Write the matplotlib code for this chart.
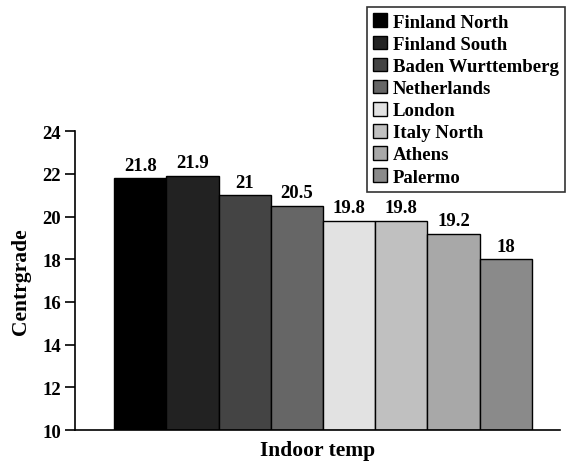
import matplotlib
matplotlib.use("Agg")
import matplotlib.pyplot as plt

regions = ["Finland North", "Finland South", "Baden Wurttemberg", "Netherlands",
           "London", "Italy North", "Athens", "Palermo"]
values = [21.8, 21.9, 21.0, 20.5, 19.8, 19.8, 19.2, 18.0]
labels = ["21.8", "21.9", "21", "20.5", "19.8", "19.8", "19.2", "18"]
colors = ["#000000", "#222222", "#444444", "#666666",
          "#e2e2e2", "#c0c0c0", "#a8a8a8", "#8a8a8a"]
yticks = [10, 12, 14, 16, 18, 20, 22, 24]

plt.rcParams['font.family'] = ['Liberation Serif', 'DejaVu Serif']
plt.rcParams['font.weight'] = 'bold'

fig = plt.figure(figsize=(5.67, 4.64), dpi=100)
ax = fig.add_axes([0.132, 0.071, 0.856, 0.644])

handles = []
for i, (r, v, c, lab) in enumerate(zip(regions, values, colors, labels)):
    b = ax.bar(i, v - 10, bottom=10, width=1.0, color=c, edgecolor="black",
               linewidth=1.0, label=r)
    handles.append(b)
    ax.text(i, v + 0.22, lab, ha="center", va="bottom", fontsize=13.5,
            fontweight="bold")

ax.set_ylim(10, 24)
ax.set_xlim(-1.25, 8.04)
ax.set_yticks(yticks)
ax.set_yticklabels([str(t) for t in yticks], fontsize=13.5, fontweight="bold")
ax.set_xticks([])
ax.spines['top'].set_visible(False)
ax.spines['right'].set_visible(False)
ax.spines['left'].set_linewidth(1.2)
ax.spines['bottom'].set_linewidth(1.2)
ax.tick_params(axis='y', direction='out', length=7, width=1.2, pad=3)

ax.set_ylabel("Centrgrade", fontsize=15.5, fontweight="bold", labelpad=8)
ax.set_xlabel("Indoor temp", fontsize=15.5, fontweight="bold", labelpad=7)

leg = fig.legend(handles=handles, labels=regions, loc="upper right",
                 bbox_to_anchor=(0.997, 0.983), frameon=True, fancybox=False,
                 edgecolor="black", prop={'size': 13.5, 'weight': 'bold'},
                 handlelength=0.75, handleheight=0.75, handletextpad=0.3,
                 labelspacing=0.25, borderpad=0.35, borderaxespad=0)
leg.get_frame().set_linewidth(1.2)

fig.savefig("out.png", dpi=100)
